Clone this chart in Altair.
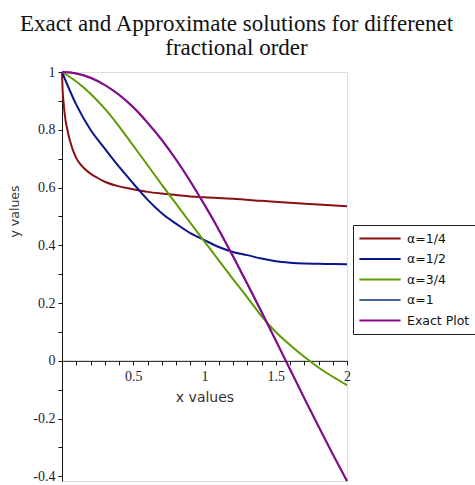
import altair as alt
import pandas as pd

# ---- data ----
x_red = [0.0, 0.005, 0.01, 0.02, 0.04, 0.06, 0.08, 0.1, 0.13, 0.16, 0.2, 0.25, 0.3, 0.4, 0.5, 0.6,
         0.7, 0.8, 0.9, 1.0, 1.2, 1.4, 1.6, 1.8, 2.0]
y_red = [1.0, 0.93, 0.9, 0.85, 0.795, 0.755, 0.725, 0.702, 0.68, 0.664, 0.648, 0.633, 0.62, 0.604,
         0.594, 0.585, 0.579, 0.574, 0.569, 0.566, 0.561, 0.554, 0.547, 0.541, 0.535]

x_grid = [0.0, 0.1, 0.2, 0.3, 0.4, 0.5, 0.6, 0.7, 0.8, 0.9, 1.0, 1.1, 1.2, 1.3, 1.4, 1.5, 1.6,
          1.7, 1.8, 1.9, 2.0]
y_blue = [1.0, 0.887, 0.80, 0.735, 0.672, 0.614, 0.558, 0.511, 0.475, 0.442, 0.418, 0.394, 0.377,
          0.366, 0.354, 0.345, 0.340, 0.337, 0.336, 0.335, 0.334]
y_green = [1.0, 0.967, 0.925, 0.873, 0.812, 0.745, 0.678, 0.61, 0.544, 0.478, 0.413, 0.348, 0.283,
           0.22, 0.155, 0.1, 0.055, 0.014, -0.023, -0.055, -0.084]
y_alpha1 = [1.0, 0.995, 0.98, 0.955, 0.921, 0.878, 0.825, 0.765, 0.697, 0.622, 0.54, 0.454, 0.362,
            0.267, 0.17, 0.071, -0.029, -0.129, -0.227, -0.323, -0.416]
y_exact = [1.0, 0.995, 0.98, 0.955, 0.921, 0.878, 0.825, 0.765, 0.697, 0.622, 0.54, 0.454, 0.362,
           0.267, 0.17, 0.071, -0.029, -0.129, -0.227, -0.323, -0.416]

series_names = ["α=1/4", "α=1/2", "α=3/4", "α=1", "Exact Plot"]
series_colors = ["#8a0f14", "#0a148c", "#5f9a00", "#4b6496", "#8c0a8c"]

rows = []
for xs, ys, name in [(x_red, y_red, series_names[0]),
                     (x_grid, y_blue, series_names[1]),
                     (x_grid, y_green, series_names[2]),
                     (x_grid, y_alpha1, series_names[3]),
                     (x_grid, y_exact, series_names[4])]:
    for i, (a, b) in enumerate(zip(xs, ys)):
        rows.append({"x": a, "y": b, "series": name, "i": i})
df = pd.DataFrame(rows)

x_ticks = [round(0.1 * i, 1) for i in range(1, 21)]
y_ticks = [round(-0.4 + 0.1 * i, 1) for i in range(15)]

W, H = 285, 409
ymin, ymax = -0.416, 1.0
x_axis_offset = -(H * (0 - ymin) / (ymax - ymin))

color = alt.Color(
    "series:N",
    scale=alt.Scale(domain=series_names, range=series_colors),
    legend=alt.Legend(
        title=None, orient="none", legendX=291, legendY=153,
        symbolType="stroke", symbolSize=1700, symbolStrokeWidth=2,
        labelFont="DejaVu Sans", labelFontSize=12.5, labelColor="#111",
        strokeColor="#222", fillColor="white", padding=5, rowPadding=3.5,
        labelOffset=5, clipHeight=17,
    ),
)

xenc = alt.X(
    "x:Q",
    scale=alt.Scale(domain=[0, 2], nice=False, zero=False),
    axis=alt.Axis(
        values=x_ticks, offset=x_axis_offset, grid=False,
        labelExpr="(round(datum.value*10) % 5 == 0) ? format(datum.value, '~g') : ''",
        labelFont="Liberation Serif", labelFontSize=14, labelColor="#1a1a33",
        labelFlush=False, labelOverlap=False, labelPadding=5,
        tickSize=4, tickColor="#111", domainColor="#111",
        title="x values", titleFont="DejaVu Sans", titleFontSize=14,
        titleFontWeight="normal", titleColor="#333",
        titleX=W / 2, titleY=41, titleBaseline="alphabetic", titleAlign="center",
    ),
)
yenc = alt.Y(
    "y:Q",
    scale=alt.Scale(domain=[ymin, ymax], nice=False, zero=False),
    axis=alt.Axis(
        values=y_ticks, grid=False,
        labelExpr="(abs(round(datum.value*10)) % 2 == 0) ? replace(format(datum.value, '~g'), '\u2212', '-') : ''",
        labelFont="Liberation Serif", labelFontSize=14, labelColor="#1a1a33",
        labelFlush=False, labelOverlap=False, labelPadding=3,
        tickSize=4, tickColor="#111", domainColor="#111",
        title="y values", titleFont="DejaVu Sans", titleFontSize=12.5,
        titleFontWeight="normal", titleColor="#333",
        titleX=-48, titleY=139, titleBaseline="middle", titleAlign="center", titleAngle=270,
    ),
)

base = alt.Chart(df)
approx = base.transform_filter(alt.datum.series != "Exact Plot").mark_line(
    strokeWidth=2, interpolate="monotone"
).encode(x=xenc, y=yenc, color=color, order="i:Q")
exact = base.transform_filter(alt.datum.series == "Exact Plot").mark_line(
    strokeWidth=2, interpolate="monotone"
).encode(x=xenc, y=yenc, color=color, order="i:Q")

chart = alt.layer(approx, exact).properties(
    width=W, height=H,
    title=alt.TitleParams(
        text=["Exact and Approximate solutions for differenet", "fractional order"],
        font="Liberation Serif", fontSize=23, fontWeight="normal", color="#111",
        anchor="middle", dx=32, offset=5, lineHeight=24,
    ),
    autosize=alt.AutoSizeParams(type="none"),
    padding={"left": 62, "top": 72, "right": 128, "bottom": 4},
).configure_view(strokeWidth=0).configure(background="white")

chart.save("out.html", embed_options={"renderer": "svg", "actions": False})
